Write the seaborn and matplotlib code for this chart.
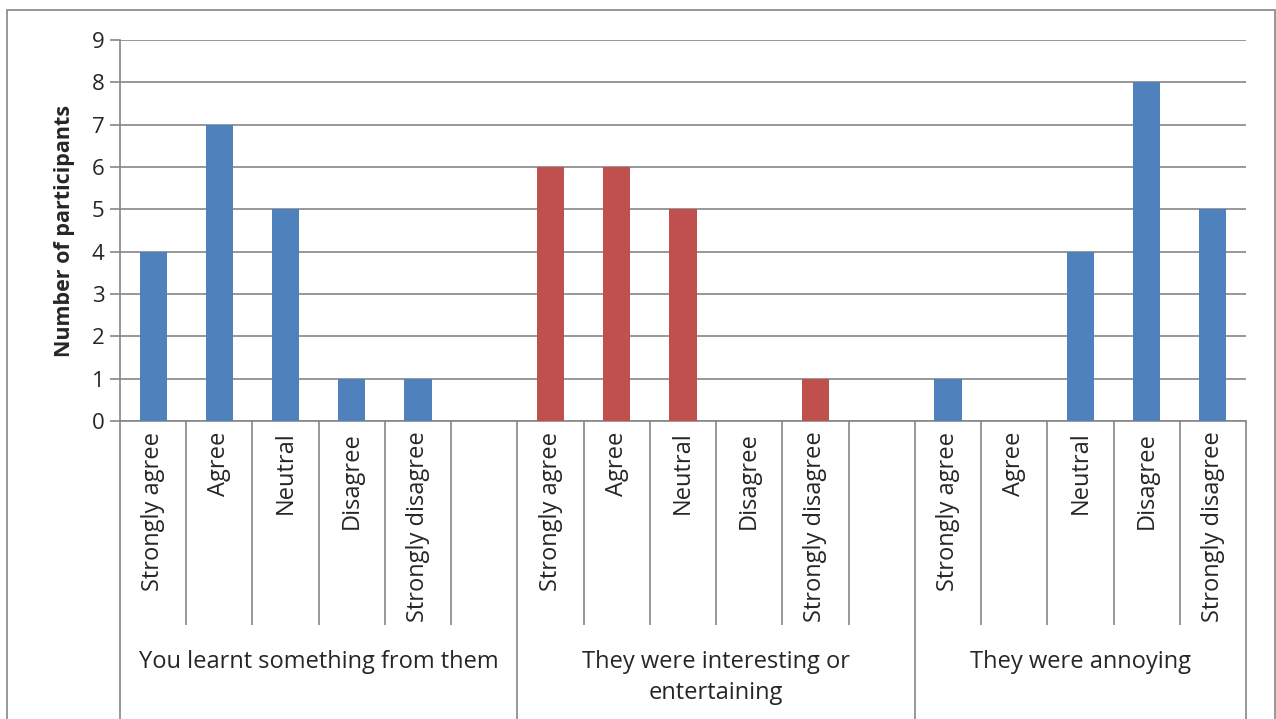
import matplotlib
matplotlib.use("Agg")
import matplotlib.pyplot as plt
import matplotlib.patches as mpatches
import pandas as pd
import seaborn as sns

responses = ["Strongly agree", "Agree", "Neutral", "Disagree", "Strongly disagree"]
groups = ["You learnt something from them",
          "They were interesting or\nentertaining",
          "They were annoying"]
learnt = [4, 7, 5, 1, 1]
interesting = [6, 6, 5, 0, 1]
annoying = [1, 0, 4, 8, 5]
colors = ["#4F81BD", "#C0504D", "#4F81BD"]

sns.set_style("white")
plt.rcParams["font.family"] = ["Open Sans", "DejaVu Sans"]

# 17 slots: 5 bars + 1 blank per group
rows = []
for g, vals in enumerate([learnt, interesting, annoying]):
    for i, v in enumerate(vals):
        rows.append({"slot": g * 6 + i, "count": v, "group": groups[g]})
df = pd.DataFrame(rows)

W, H = 1276, 719
fs = 17
fig = plt.figure(figsize=(W / 100, H / 100), dpi=100)
ax = fig.add_axes([120 / W, (H - 421) / H, 1126 / W, 381 / H])

sns.barplot(data=df, x="slot", y="count", hue="group", palette=dict(zip(groups, colors)),
            dodge=False, native_scale=True, width=0.41, saturation=1, linewidth=0,
            edgecolor="none", legend=False, ax=ax, zorder=3)

grid_c = "#868686"
ax.set_xlim(-0.5, 16.5)
ax.set_ylim(0, 9)
ax.set_yticks(range(10))
ax.yaxis.grid(True, color=grid_c, linewidth=1.2, zorder=0)
ax.tick_params(axis="y", length=7, width=1.2, color=grid_c, labelsize=16, pad=4, left=True)
ax.set_xticks([])
ax.set_xlabel("")
ax.set_ylabel("Number of participants", fontsize=15.5, fontweight="bold", labelpad=12)
for s in ["top", "right"]:
    ax.spines[s].set_visible(False)
for s in ["left", "bottom"]:
    ax.spines[s].set_color(grid_c)
    ax.spines[s].set_linewidth(1.2)

trans = ax.get_xaxis_transform()
# category labels
for g in range(3):
    for i, r in enumerate(responses):
        ax.text(g * 6 + i, -0.028, r, rotation=90, ha="center", va="top",
                fontsize=fs, transform=trans)
    ax.text(g * 6 + 2.5 if g < 2 else 14, -0.6, groups[g], ha="center", va="top",
            fontsize=fs, transform=trans, linespacing=1.4)

# tick separators
small = [x + 0.5 for x in range(17) if x not in (5, 11, 16)]
ax.vlines(small, -0.535, 0, transform=trans, color=grid_c, linewidth=1.2, clip_on=False)
ax.vlines([-0.5, 5.5, 11.5, 16.5], -0.8, 0, transform=trans, color=grid_c,
          linewidth=1.2, clip_on=False)

# outer frame
fig.patches.append(mpatches.Rectangle((7 / W, -0.1), (W - 8) / W, (H - 10) / H + 0.1,
                                      transform=fig.transFigure, fill=False,
                                      edgecolor=grid_c, linewidth=1.2))

fig.savefig("out.png", dpi=100)
